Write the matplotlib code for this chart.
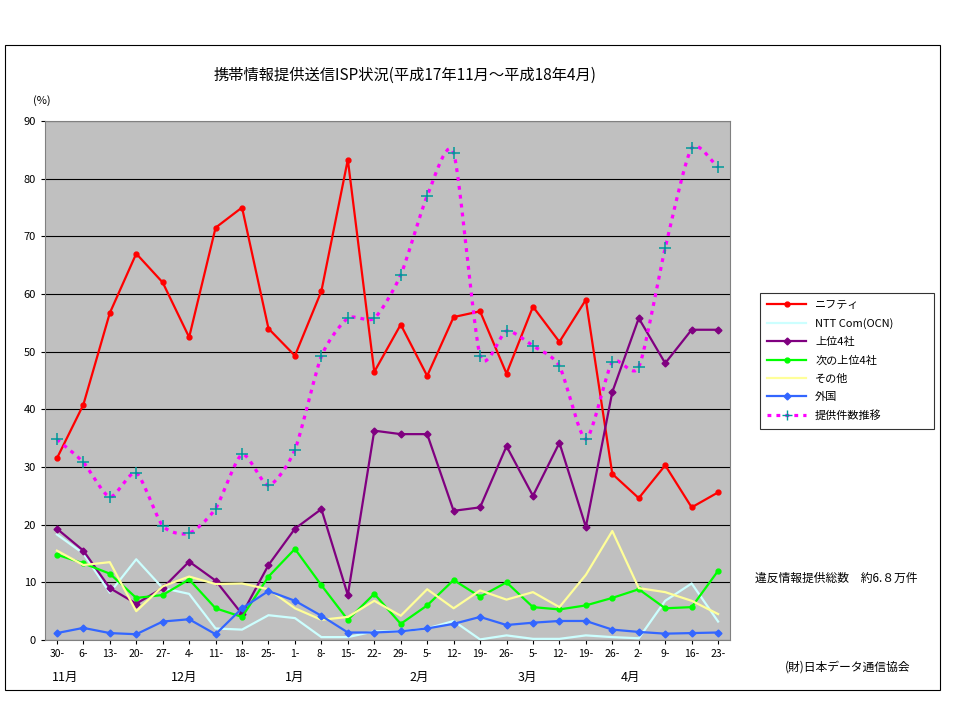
import matplotlib
matplotlib.use("Agg")
import matplotlib.pyplot as plt
import numpy as np
from matplotlib.patches import Rectangle
from matplotlib.lines import Line2D

plt.rcParams['font.family'] = ['Noto Sans CJK JP', 'DejaVu Sans']

ticks = ["30-","6-","13-","20-","27-","4-","11-","18-","25-","1-","8-","15-","22-","29-","5-","12-","19-","26-","5-","12-","19-","26-","2-","9-","16-","23-"]
months = ["11月","12月","1月","2月","3月","4月"]
month_pos = [0.3, 4.8, 9.0, 13.7, 17.8, 21.7]
nifty = [31.5,40.8,56.7,67,62,52.5,71.5,75,54,49.3,60.5,83.3,46.5,54.7,45.8,56,57,46.2,57.8,51.7,59,28.8,24.6,30.3,23,25.6]
ntt = [18.3,15,8.2,14,9,8,2,1.8,4.3,3.8,0.5,0.5,1.5,1.5,2,3.3,0.1,0.8,0.2,0.2,0.8,0.5,0.3,6.8,9.8,3.2]
top4 = [19.3,15.5,9,6.3,9,13.6,10.3,4.5,13,19.3,22.7,7.8,36.3,35.7,35.7,22.4,23,33.6,25,34.2,19.6,43,55.8,48,53.8,53.8]
next4 = [14.8,13.3,11.5,7.3,7.8,10.5,5.5,4,11,15.8,9.5,3.5,8,2.8,6,10.4,7.5,10,5.7,5.3,6,7.3,8.8,5.5,5.7,12]
other = [15.5,13,13.5,5,9.3,11,9.7,9.8,8.8,5.5,3.5,4,6.8,4.2,8.8,5.5,8.6,7,8.3,5.7,11.3,18.9,9,8.3,6.8,4.5]
foreign = [1.2,2.1,1.2,1.0,3.2,3.6,1.0,5.5,8.5,6.8,4.2,1.3,1.3,1.5,2.0,2.8,4.0,2.6,3.0,3.3,3.3,1.8,1.4,1.1,1.2,1.3]
trend = [34.8,30.8,24.8,29,19.8,18.5,22.8,32.2,26.8,33,49.2,55.8,55.8,63.3,77,84.5,49.3,53.6,51,47.5,34.8,48.2,47.3,68,85.3,82]

fig = plt.figure(figsize=(9.6,7.2), dpi=100)
fig.patches.append(Rectangle((5/960, 1-690/720), 935/960, 645/720, transform=fig.transFigure,
                             fill=False, edgecolor='black', lw=0.8))
ax = fig.add_axes([45/960, 1-640/720, 685/960, 519/720])
ax.set_facecolor('#c0c0c0')
x = np.arange(len(ticks))
ax.set_xlim(-0.45, len(ticks)-0.55)
ax.set_ylim(0, 90)
ax.set_yticks(range(0, 91, 10))
ax.yaxis.grid(True, color='black', lw=0.8)
ax.set_axisbelow(True)
ax.set_xticks(x)
ax.set_xticklabels(ticks, fontsize=7.5)
ax.tick_params(axis='y', labelsize=8, length=3)
ax.tick_params(axis='x', length=3)
for s in ax.spines.values():
    s.set_color('#808080')

def smooth(xs, ys, n=12, tension=0.35):
    xs = np.asarray(xs, float); ys = np.asarray(ys, float)
    px = np.concatenate([[2*xs[0]-xs[1]], xs, [2*xs[-1]-xs[-2]]])
    py = np.concatenate([[2*ys[0]-ys[1]], ys, [2*ys[-1]-ys[-2]]])
    ox, oy = [], []
    t = np.linspace(0, 1, n, endpoint=False)
    h00 = 2*t**3-3*t**2+1; h10 = t**3-2*t**2+t; h01 = -2*t**3+3*t**2; h11 = t**3-t**2
    for i in range(1, len(px)-2):
        for arr, out in ((px, ox), (py, oy)):
            m1 = tension*(arr[i+1]-arr[i-1]); m2 = tension*(arr[i+2]-arr[i])
            out.extend(h00*arr[i] + h10*m1 + h01*arr[i+1] + h11*m2)
    ox.append(xs[-1]); oy.append(ys[-1])
    return ox, oy

series = [(nifty, 'ニフティ', '#ff0000', 'o'),
          (ntt, 'NTT Com(OCN)', '#ccffff', None),
          (top4, '上位4社', '#800080', 'D'),
          (next4, '次の上位4社', '#00ff00', 'o'),
          (other, 'その他', '#ffff99', None),
          (foreign, '外国', '#3366ff', 'D')]
handles = []
for ys, lab, c, m in series:
    h, = ax.plot(x, ys, color=c, lw=1.6, marker=m, ms=3.5, label=lab, zorder=3)
    handles.append(h)
sx, sy = smooth(x, trend)
ax.plot(sx, sy, color='#ff00ff', lw=2.3, ls=(0, (1.2, 1.6)), zorder=4)
ax.plot(x, trend, ls='none', marker='+', ms=9, mew=1.1, color='#009999', zorder=5)
handles.append(Line2D([], [], color='#ff00ff', lw=2.3, ls=(0, (1.2, 1.6)), marker='+', mec='#009999', ms=7))
labels = [s[1] for s in series] + ['提供件数推移']
leg = fig.legend(handles, labels, loc='upper left',
                 bbox_to_anchor=(754/960, 1-435/720, 186/960, 148/720), mode='expand',
                 fontsize=8, frameon=True, fancybox=False, edgecolor='black',
                 handlelength=3.5, labelspacing=0.72, borderpad=0.7)
leg.get_frame().set_linewidth(0.8)

for p, mlab in zip(month_pos, months):
    ax.text(p, -6.5, mlab, ha='center', va='center', fontsize=9)

fig.text(405/960, 1-75/720, '携帯情報提供送信ISP状況(平成17年11月～平成18年4月)', ha='center', va='center', fontsize=11)
fig.text(42/960, 1-101/720, '(%)', ha='center', va='center', fontsize=8)
fig.text(755/960, 1-578/720, '違反情報提供総数　約6.８万件', ha='left', va='center', fontsize=8.5)
fig.text(785/960, 1-667/720, '(財)日本データ通信協会', ha='left', va='center', fontsize=8.5)

fig.savefig('out.png', dpi=100)
